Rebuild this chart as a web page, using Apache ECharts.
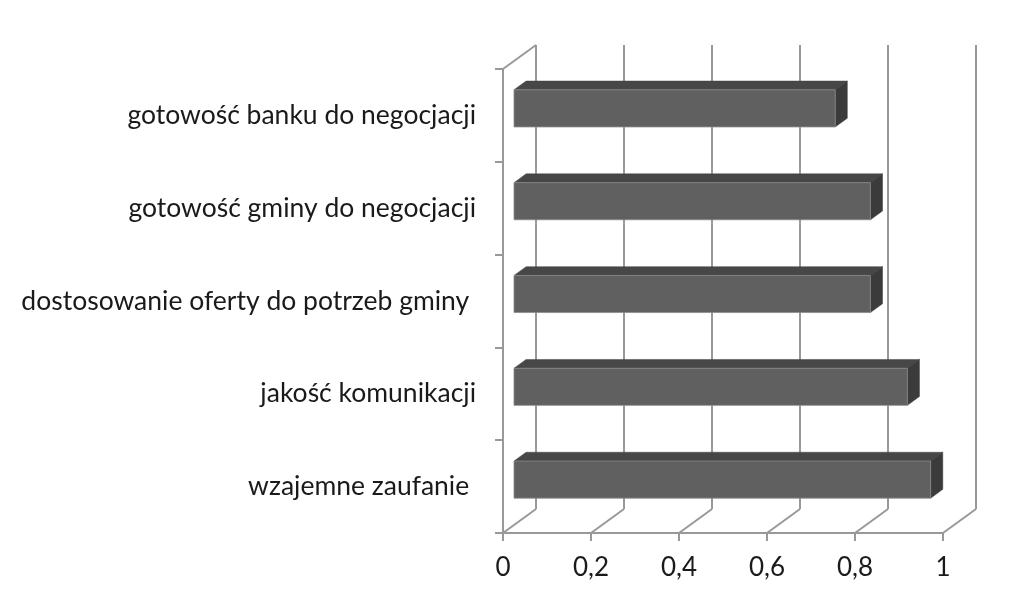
<!DOCTYPE html>
<html><head><meta charset="utf-8">
<script src="https://cdn.jsdelivr.net/npm/echarts@6/dist/echarts.min.js"></script>
<style>html,body{margin:0;padding:0;background:#fff}#c{width:1024px;height:589px}</style>
</head><body><div id="c"></div>
<script>
var categories = ['gotowość banku do negocjacji','gotowość gminy do negocjacji','dostosowanie oferty do potrzeb gminy ','jakość komunikacji','wzajemne zaufanie '];
var values = [0.73, 0.81, 0.81, 0.894, 0.947];
var xTicks = [0, 0.2, 0.4, 0.6, 0.8, 1];

var DEPTH = [33, -24];      // full depth offset of the back wall
var BAR_D0 = 1/3, BAR_D1 = 0.7; // bar depth range (fraction)
var GRID_COLOR = '#999999';

var chart = echarts.init(document.getElementById('c'));
chart.setOption({
  animation: false,
  backgroundColor: '#fff',
  grid: {left: 503, right: 81, top: 69, bottom: 56, containLabel: false},
  xAxis: {
    type: 'value', min: 0, max: 1, interval: 0.2,
    axisLine: {show: true, lineStyle: {color: GRID_COLOR, width: 2}},
    axisTick: {show: true, length: 8, lineStyle: {color: GRID_COLOR, width: 2}},
    splitLine: {show: false},
    axisLabel: {color: '#1a1a1a', fontFamily: 'Lato', fontSize: 26, margin: 22,
      formatter: function (v) { return String(Math.round(v * 10) / 10).replace('.', ','); }}
  },
  yAxis: {
    type: 'category', data: categories, inverse: true,
    axisLine: {show: true, lineStyle: {color: GRID_COLOR, width: 2}},
    axisTick: {show: true, length: 8, lineStyle: {color: GRID_COLOR, width: 2}},
    splitLine: {show: false},
    axisLabel: {color: '#1a1a1a', fontFamily: 'Lato', fontSize: 26.5, margin: 27, padding: [4, 0, 0, 0]}
  },
  series: [
    {
      type: 'custom', silent: true, z: 1,
      data: xTicks.map(function (t) { return [t]; }),
      renderItem: function (params, api) {
        var v = api.value(0);
        var top = api.coord([v, 0]);
        var band = api.size([0, 1])[1];
        var yTop = top[1] - band / 2;
        var yBot = yTop + band * categories.length;
        var x = top[0];
        var ls = {stroke: GRID_COLOR, lineWidth: 2, fill: null};
        var children = [
          {type: 'line', shape: {x1: x + DEPTH[0], y1: yTop + DEPTH[1], x2: x + DEPTH[0], y2: yBot + DEPTH[1]}, style: ls},
          {type: 'line', shape: {x1: x, y1: yBot, x2: x + DEPTH[0], y2: yBot + DEPTH[1]}, style: ls}
        ];
        if (v === 0) {
          children.push({type: 'line', shape: {x1: x, y1: yTop, x2: x + DEPTH[0], y2: yTop + DEPTH[1]}, style: ls});
        }
        return {type: 'group', children: children};
      }
    },
    {
      type: 'custom', z: 3,
      data: values.map(function (v, i) { return [v, i]; }),
      renderItem: function (params, api) {
        var v = api.value(0), c = api.value(1);
        var p0 = api.coord([0, c]);
        var p1 = api.coord([v, c]);
        var band = api.size([0, 1])[1];
        var h = band * 0.40;
        var ox = DEPTH[0] * BAR_D0, oy = DEPTH[1] * BAR_D0;
        var dx = DEPTH[0] * (BAR_D1 - BAR_D0), dy = DEPTH[1] * (BAR_D1 - BAR_D0);
        var xl = p0[0] + ox, xr = p1[0] + ox;
        var yt = p0[1] + oy - h / 2 + 1, yb = yt + h;
        return {type: 'group', children: [
          {type: 'polygon', shape: {points: [[xl, yt], [xr, yt], [xr + dx, yt + dy], [xl + dx, yt + dy]]},
            style: {fill: '#474747', stroke: '#474747', lineWidth: 0.5}},
          {type: 'polygon', shape: {points: [[xr, yt], [xr + dx, yt + dy], [xr + dx, yb + dy], [xr, yb]]},
            style: {fill: '#3b3b3b', stroke: '#3b3b3b', lineWidth: 0.5}},
          {type: 'rect', shape: {x: xl, y: yt, width: xr - xl, height: h},
            style: {fill: '#606060', stroke: '#8a8a8a', lineWidth: 0.8}}
        ]};
      }
    }
  ]
});
</script></body></html>
